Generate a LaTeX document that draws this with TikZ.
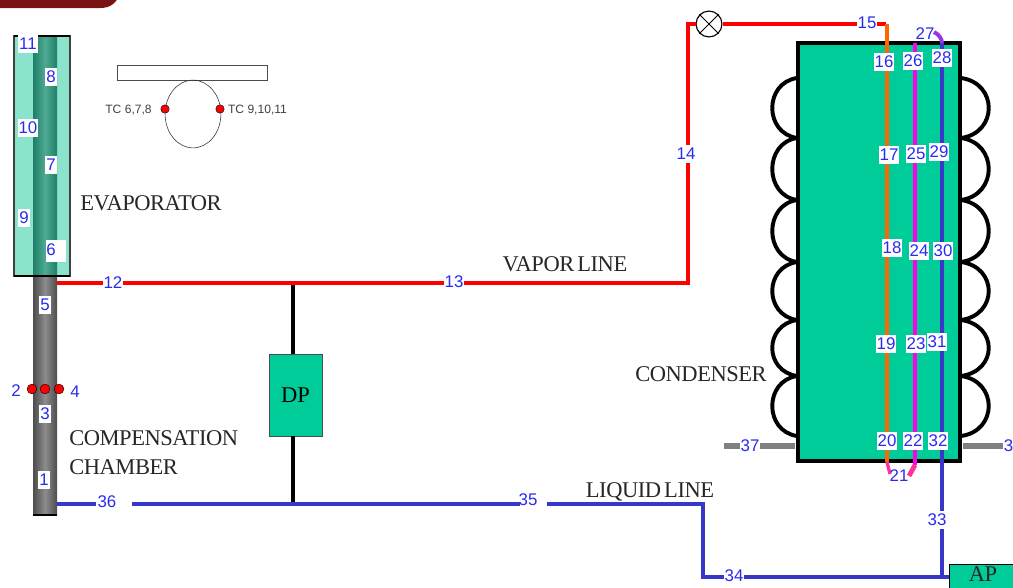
\documentclass[tikz,border=0pt]{standalone}
\usepackage{fontspec}
\usetikzlibrary{shapes.geometric}
\setmainfont{Liberation Serif}
\setsansfont{Liberation Sans}
\newfontfamily\tightfont[LetterSpace=-2, WordSpace=0.6]{Liberation Serif}
\definecolor{boxgreen}{HTML}{00CC99}
\definecolor{wicklight}{HTML}{8CE3CB}
\definecolor{wickdark}{HTML}{1F7F68}
\definecolor{wickmid}{HTML}{4FAA92}
\definecolor{liquidblue}{HTML}{3838C8}
\definecolor{tagblue}{HTML}{2A2AF0}
\definecolor{tubeorange}{HTML}{FF6600}
\definecolor{tubemagenta}{HTML}{FF00E6}
\definecolor{tubepink}{HTML}{FF3399}
\definecolor{tubepurple}{HTML}{9933E6}
\definecolor{bannerred}{HTML}{7A1414}
\begin{document}
\begin{tikzpicture}[
    x=0.025cm, y=-0.025cm,
    tag/.style={fill=white, text=tagblue, font=\sffamily\fontsize{12}{12}\selectfont, inner sep=0.6pt, minimum height=13pt},
    bare/.style={text=tagblue, font=\sffamily\fontsize{12}{12}\selectfont, inner sep=0.6pt},
    blank/.style={fill=white, inner sep=0pt},
    caption/.style={text=black!85, font=\tightfont\fontsize{16}{16}\selectfont, inner sep=0pt},
    tclabel/.style={text=black!75, font=\sffamily\fontsize{8.6}{9}\selectfont, inner sep=0pt},
    sensor/.style={circle, draw=black, fill=red, minimum size=7pt, inner sep=0pt, line width=0.3pt},
    gauge/.style={draw=black!70, fill=boxgreen, inner sep=0pt, font=\fontsize{16}{16}\selectfont},
    vapor/.style={red, line width=3.5pt},
    liquid/.style={liquidblue, line width=3.4pt},
    coil/.style={black, line width=2.8pt},
    stub/.style={black!50, line width=4.9pt}
]
    \useasboundingbox (0,0) rectangle (1013,587);
    \fill[bannerred] (0,-5) -- (0,8) -- (100,8) .. controls (110,8) and (115,4) .. (120,-5) -- cycle;

    % evaporator and compensation chamber
    \fill[left color=black!70, right color=black!70, middle color=black!45] (33,276) rectangle (57,515);
    \draw[black, line width=0.8pt] (33,515) -- (57,515);
    \draw[black!75, fill=wicklight, line width=0.8pt] (14,36) rectangle (70,276);
    \fill[left color=wickdark, right color=wickdark, middle color=wickmid] (33,37) rectangle (57,275);
    \draw[black, line width=1.2pt] (14,36) -- (70,36) (14,276) -- (70,276);

    % wick sketch
    \node[draw=black!70, minimum width=107pt, minimum height=10.6pt, inner sep=0pt] (plate) at (192.5,72.5) {};
    \node[draw=black!80, ellipse, minimum width=39.7pt, minimum height=48.2pt, inner sep=0pt] (wick) at (193,114) {};
    \node[sensor, minimum size=6pt] (tcl) at (165,109) {};
    \node[sensor, minimum size=6pt] (tcr) at (220,109) {};
    \node[tclabel] (tcltext) at (128.5,110) {TC 6,7,8};
    \node[tclabel] (tcrtext) at (257.5,110) {TC 9,10,11};

    % condenser
    \node[draw=black, line width=3.2pt, fill=boxgreen, minimum width=115.5pt, minimum height=297pt, inner sep=0pt] (cond) at (879,252) {};
    \foreach \a/\b in {78/138, 138/200, 200/262, 262/320, 320/376, 376/436} {
        \draw[coil] (797,\a) .. controls (764,\a+5) and (764,\b-5) .. (797,\b);
        \draw[coil] (961,\a) .. controls (998,\a+5) and (998,\b-5) .. (961,\b);
    }
    \draw[stub] (724,446) -- (795,446);
    \draw[stub] (963,446) -- (1013,446);

    % boxes
    \node[gauge, minimum width=37.6pt, minimum height=58.1pt] (dp) at (295.5,395) {DP};
    \node[gauge, draw=black, minimum width=45.4pt, minimum height=22pt, anchor=north west] (ap) at (949,564) {};
    \node[caption] (aptext) at (983,574.5) {AP};
    \node[circle, draw=black, fill=white, minimum size=18.4pt, inner sep=0pt, line width=0.8pt] (valve) at (709,24) {};
    \draw[black, line width=0.6pt] (valve.north west) -- (valve.south east) (valve.north east) -- (valve.south west);

    % lines
    \coordinate (vs) at (57,283);
    \coordinate (vj) at (293,283);
    \coordinate (vc) at (688,283);
    \coordinate (vt) at (688,24);
    \coordinate (ot) at (887,24);
    \coordinate (ob) at (887,462);
    \coordinate (ls) at (57,504);
    \coordinate (lj) at (293,504);
    \coordinate (lc) at (703,504);
    \coordinate (lb) at (703,577);
    \coordinate (lt) at (942,577);
    \coordinate (mt) at (915,43);
    \coordinate (mb) at (915,465);
    \coordinate (bt) at (942,43);
    \draw[black, line width=2.8pt] (vj) -- (vj |- dp.north) (vj |- dp.south) -- (lj);
    \draw[vapor] (vs) -- (vc) -- (vt) -- (valve);
    \draw[vapor] (valve) -- (886,24);
    \draw[tubeorange, line width=3pt] (ot) -- (ob);
    \draw[tubemagenta, line width=3.2pt] (mt) -- (mb);
    \draw[liquidblue, line width=3pt] (bt) -- (lt);
    \draw[liquid] (ls) -- (lc) -- (lb) -- (ap.west |- lb);
    \draw[tubepurple, line width=2.8pt] (934,32) .. controls (938,34) and (942,38) .. (bt);
    \draw[tubepink, line width=2.4pt] (ob) -- (890,474);
    \draw[tubepink, line width=3.4pt] (mb) -- (909,476);

    % sensors on the chamber
    \node[sensor] (s2) at (32,389) {};
    \node[sensor] (s3) at (45,389) {};
    \node[sensor] (s4) at (59,389) {};

    % captions
    \node[caption] (evap) at (151,203) {EVAPORATOR};
    \node[caption, anchor=west] (comp) at (69,438) {COMPENSATION};
    \node[caption, anchor=west] (chamber) at (69,467) {CHAMBER};
    \node[caption] (vapor) at (565,264) {VAPOR LINE};
    \node[caption] (liquid) at (650,492) {LIQUID LINE};
    \node[caption] (condenser) at (701,374) {CONDENSER};

    % gaps behind some tags
    \node[blank, minimum width=14pt, minimum height=15pt] (g6) at (56,251) {};
    \node[blank, minimum width=25.5pt, minimum height=10pt] (g36) at (114,503) {};
    \node[blank, minimum width=19pt, minimum height=10pt] (g35) at (533.5,503) {};

    % temperature tags
    \foreach \n/\x/\y in {11/28/44, 8/51/77, 10/28/128, 7/51/165, 9/24/218, 12/113/283, 5/45/305, 3/45/414, 1/44/480,
        13/454/282, 14/686/154, 15/867/23, 16/884/62, 17/889/155, 18/892/248, 19/886/344, 20/887/441,
        22/913/441, 23/916/344, 24/919/251, 25/916/154, 26/913/61, 28/942/58, 29/939/152, 30/943/251,
        31/937/342, 32/938/441, 33/937/520, 34/734/576, 37/750/446}
        \node[tag] (t\n) at (\x,\y) {\n};
    \node[tag] (t3r) at (1008.5,446) {3};
    \foreach \n/\x/\y in {6/51/250, 36/107/502, 35/528/500, 2/16/391, 4/75/392, 21/899/476, 27/925/34}
        \node[bare] (t\n) at (\x,\y) {\n};
\end{tikzpicture}
\end{document}
